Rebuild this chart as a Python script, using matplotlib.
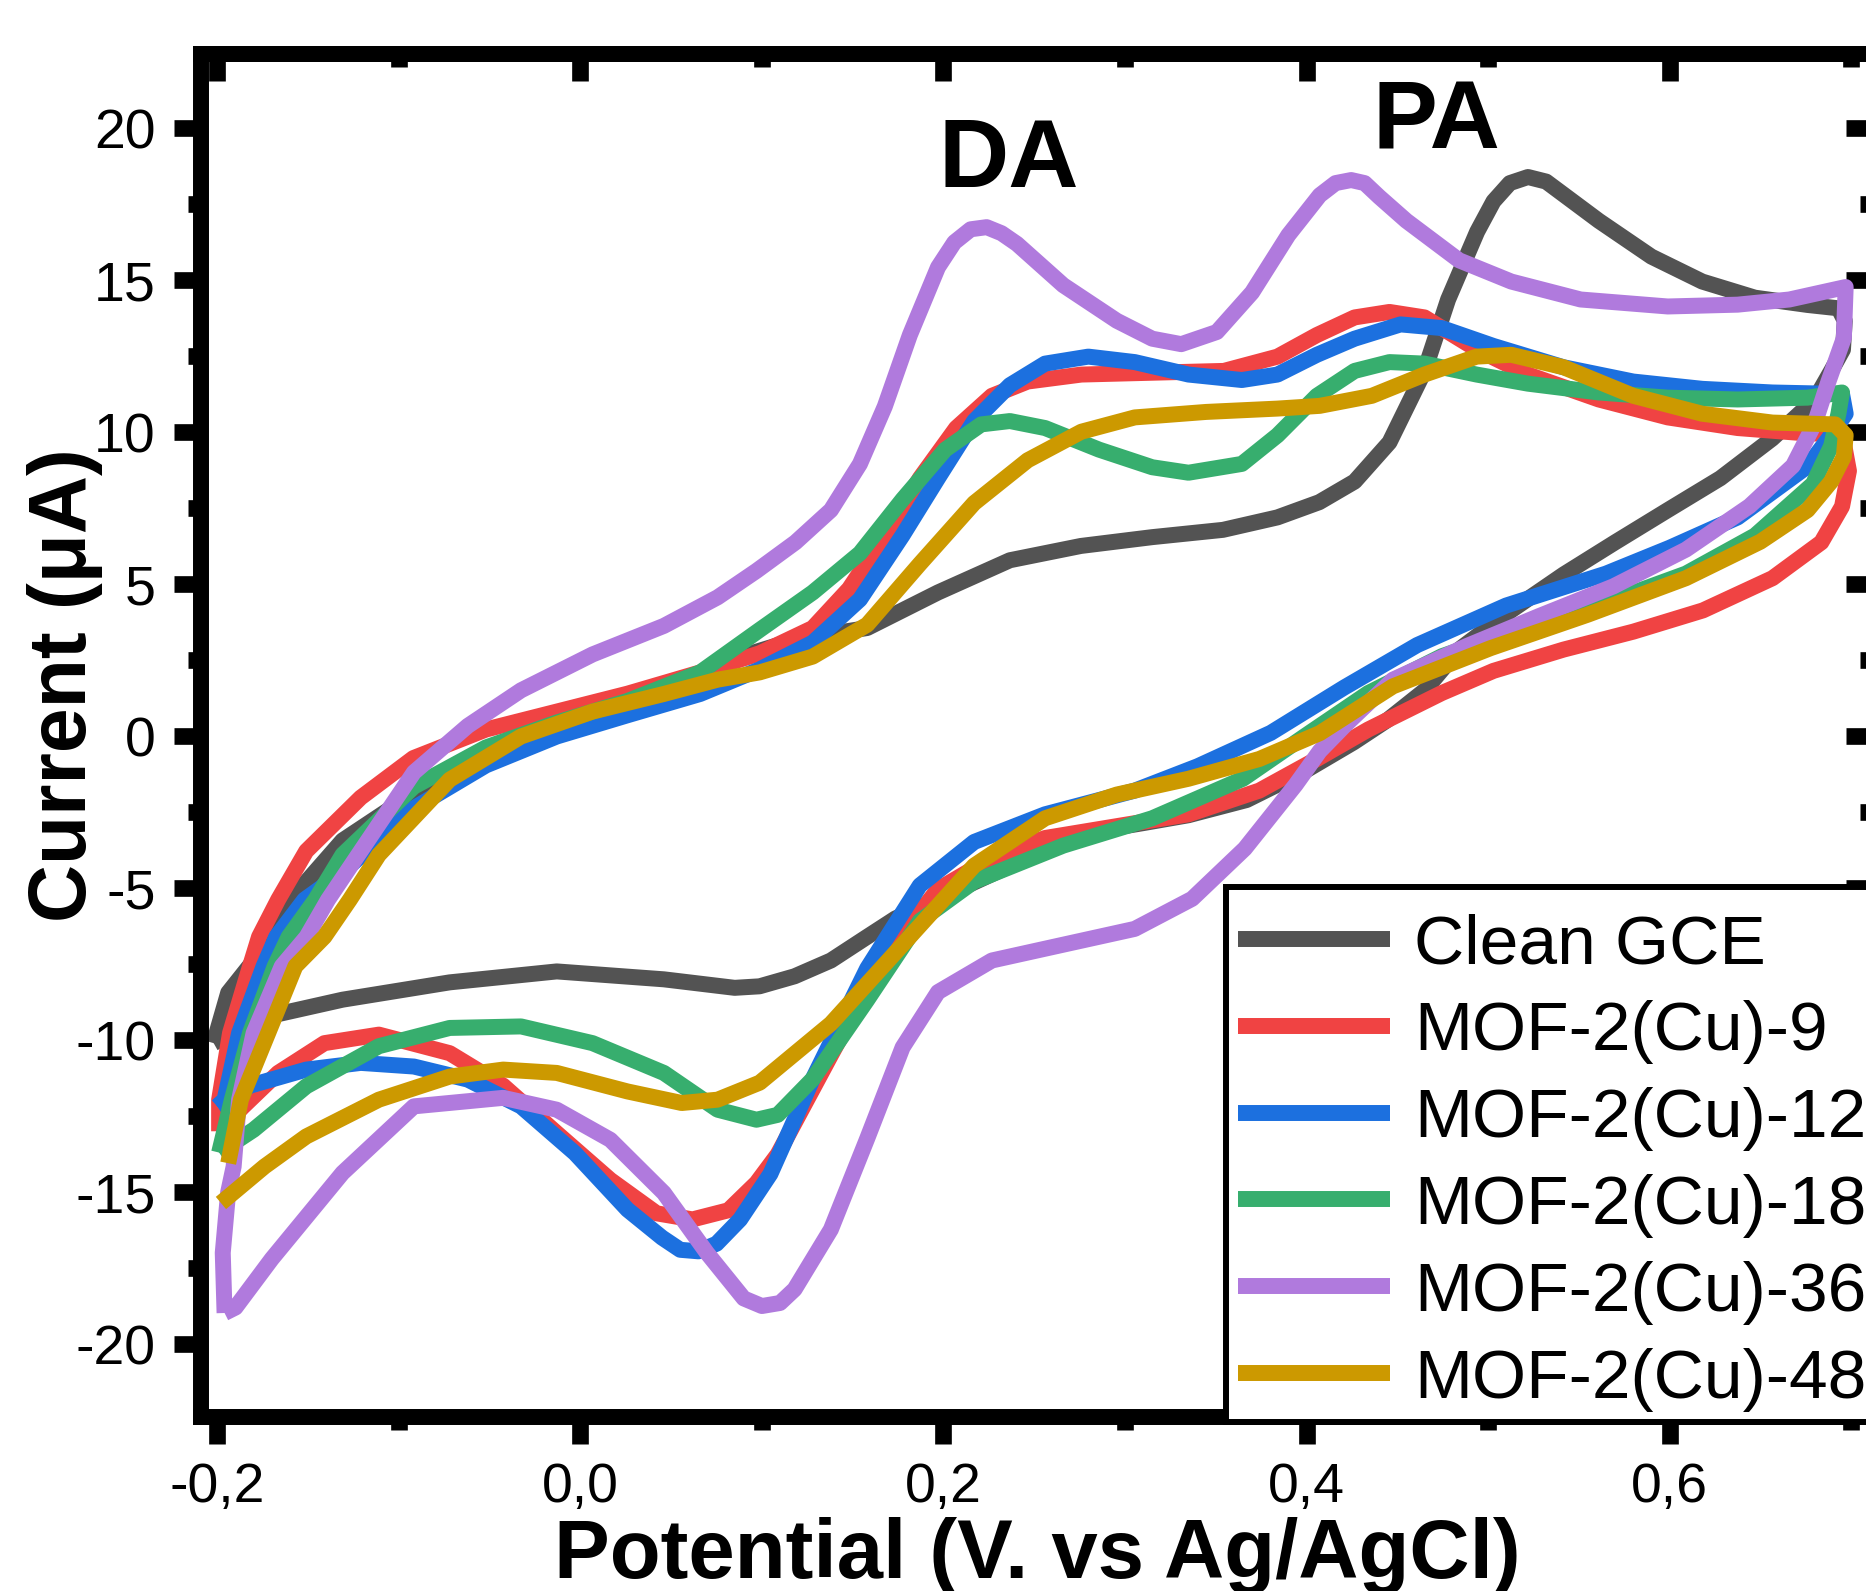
import matplotlib.pyplot as plt
from matplotlib.ticker import MultipleLocator
from matplotlib.patches import Rectangle

plt.rcParams['font.family'] = ['Liberation Sans', 'DejaVu Sans']

# Kurven: Potential (V) und Strom (uA), Hinlauf dann Ruecklauf
gce_v = [-0.202, -0.194, -0.1695, -0.1596, -0.131, -0.100, -0.072, -0.030, 0.020, 0.0854, 0.120,
         0.158, 0.197, 0.2366, 0.2757, 0.315, 0.354, 0.384, 0.407, 0.4265, 0.4457, 0.465, 0.478,
         0.494, 0.503, 0.512, 0.522, 0.532, 0.541, 0.561, 0.590, 0.618, 0.647, 0.676, 0.693, 0.6965,
         0.6955, 0.689, 0.680, 0.6565, 0.628, 0.599, 0.570, 0.5416, 0.5128, 0.484, 0.465, 0.445,
         0.426, 0.399, 0.367, 0.335, 0.311, 0.286, 0.25, 0.21, 0.1735, 0.158, 0.138, 0.118,
         0.0987, 0.085, 0.046, -0.013, -0.072, -0.131, -0.178, -0.202]
gce_i = [-10.1, -8.44, -6.6, -5.38, -3.43, -2.2, -1.5, -0.3, 0.9, 2.57, 3.2,
         3.56, 4.73, 5.79, 6.26, 6.55, 6.79, 7.2, 7.7, 8.38, 9.67, 12.02, 14.37,
         16.6, 17.6, 18.2, 18.4, 18.25, 17.85, 16.96, 15.78, 14.96, 14.43, 14.19, 14.08, 13.67,
         12.72, 12.02, 11.08, 9.79, 8.49, 7.44, 6.38, 5.32, 4.14, 2.85, 1.5, 0.55,
         -0.2, -1.15, -2.1, -2.6, -2.85, -3.1, -3.9, -5.0, -6.0, -6.6, -7.38, -7.9,
         -8.23, -8.28, -8.0, -7.74, -8.1, -8.67, -9.3, -10.1]

mof9_v = [-0.199, -0.199, -0.193, -0.182, -0.177, -0.1665, -0.151, -0.121, -0.092, -0.052,
          -0.013, 0.026, 0.066, 0.0988, 0.128, 0.148, 0.1677, 0.187, 0.207, 0.2267, 0.2464,
          0.276, 0.315, 0.3545, 0.384, 0.4057, 0.4265, 0.4457, 0.465, 0.4937, 0.522, 0.561,
          0.599, 0.6375, 0.676, 0.695,
          0.6988, 0.695, 0.6836, 0.6567, 0.6184, 0.58, 0.5416, 0.503, 0.4745, 0.434, 0.4057,
          0.374, 0.335, 0.2955, 0.256, 0.2267, 0.197, 0.1677, 0.138, 0.1087, 0.097, 0.0815,
          0.0618, 0.042, 0.0165, -0.013, -0.0425, -0.072, -0.111, -0.141, -0.1665, -0.186, -0.199]
mof9_i = [-13.0, -11.96, -9.77, -7.57, -6.6, -5.38, -3.78, -2.02, -0.72, 0.22,
          0.81, 1.4, 2.1, 2.73, 3.56, 4.85, 6.61, 8.49, 10.14, 11.2, 11.67,
          11.9, 11.96, 12.02, 12.49, 13.2, 13.78, 13.96, 13.78, 12.73, 11.9, 11.08,
          10.49, 10.14, 9.96, 9.96,
          8.73, 7.56, 6.38, 5.2, 4.14, 3.44, 2.85, 2.15, 1.42, 0.22, -0.75,
          -1.79, -2.57, -2.96, -3.35, -4.0, -5.04, -7.25, -10.5, -13.76, -14.7, -15.6,
          -15.9, -15.7, -14.6, -13.06, -11.5, -10.43, -9.82, -10.1, -11.08, -12.2, -13.0]

mof12_v = [-0.2, -0.196, -0.188, -0.1745, -0.1675, -0.152, -0.131, -0.0917, -0.052, -0.013,
           0.026, 0.066, 0.0988, 0.128, 0.154, 0.1775, 0.197, 0.2169, 0.2366, 0.256, 0.2798,
           0.3054, 0.335, 0.3644, 0.384, 0.4057, 0.4265, 0.4518, 0.4745, 0.503, 0.5416, 0.580,
           0.618, 0.6567, 0.695,
           0.697, 0.6875, 0.676, 0.6375, 0.60, 0.565, 0.51, 0.461, 0.4207, 0.3803, 0.34,
           0.3054, 0.256, 0.2169, 0.187, 0.158, 0.128, 0.1047, 0.088, 0.075, 0.065, 0.055,
           0.045, 0.026, -0.003, -0.0327, -0.062, -0.0917, -0.121, -0.151, -0.182, -0.2]
mof12_i = [-12.18, -11.96, -9.77, -7.57, -6.6, -5.38, -4.48, -2.37, -0.96, -0.01,
           0.69, 1.39, 2.2, 3.08, 4.5, 6.61, 8.49, 10.37, 11.55, 12.26, 12.49,
           12.31, 11.9, 11.72, 11.9, 12.55, 13.08, 13.55, 13.43, 12.84, 12.14, 11.67,
           11.43, 11.31, 11.26,
           10.61, 9.79, 8.88, 7.2, 6.2, 5.35, 4.3, 3.0, 1.6, 0.11, -0.99,
           -1.79, -2.57, -3.48, -4.91, -7.64, -11.28, -14.4, -15.9, -16.7, -16.95, -16.9,
           -16.5, -15.58, -13.72, -12.18, -11.3, -10.87, -10.75, -10.97, -11.5, -12.18]

mof18_v = [-0.199, -0.192, -0.182, -0.1684, -0.1607, -0.146, -0.131, -0.0917, -0.052, -0.013,
           0.026, 0.066, 0.0988, 0.128, 0.154, 0.1775, 0.201, 0.2208, 0.2366, 0.256, 0.2857,
           0.315, 0.335, 0.3644, 0.384, 0.4057, 0.4265, 0.4457, 0.465, 0.4937, 0.522, 0.561,
           0.599, 0.6375, 0.676, 0.695,
           0.693, 0.689, 0.679, 0.647, 0.609, 0.570, 0.528, 0.4745, 0.434, 0.399, 0.365,
           0.315, 0.266, 0.2169, 0.187, 0.158, 0.128, 0.1087, 0.097, 0.0756, 0.046, 0.0067,
           -0.0327, -0.072, -0.111, -0.151, -0.18, -0.199]
mof18_i = [-13.7, -11.96, -9.77, -7.57, -6.6, -5.38, -3.9, -1.66, -0.37, 0.45,
           1.16, 2.1, 3.5, 4.73, 6.02, 7.79, 9.43, 10.26, 10.37, 10.14, 9.43,
           8.85, 8.67, 8.96, 9.9, 11.2, 12.02, 12.31, 12.26, 11.9, 11.6, 11.31,
           11.14, 11.08, 11.14, 11.31,
           10.61, 9.55, 8.3, 6.6, 5.35, 4.5, 3.75, 2.63, 1.42, 0.0, -1.4,
           -2.7, -3.6, -4.78, -6.08, -8.68, -11.28, -12.46, -12.62, -12.29, -11.08, -10.1,
           -9.55, -9.6, -10.2, -11.52, -12.95, -13.7]

mof36_v = [-0.196, -0.197, -0.194, -0.191, -0.188, -0.180, -0.1645, -0.1508, -0.139, -0.121,
           -0.0917, -0.062, -0.0327, 0.0067, 0.046, 0.0756, 0.097, 0.1185, 0.138, 0.154, 0.1677,
           0.1815, 0.197, 0.206, 0.215, 0.2238, 0.232, 0.2405, 0.266, 0.2955, 0.315, 0.331, 0.3506,
           0.37, 0.39, 0.4073, 0.416, 0.4246, 0.432, 0.44, 0.455, 0.484, 0.5128, 0.551, 0.599,
           0.6375, 0.666, 0.697,
           0.696, 0.6875, 0.68, 0.668, 0.644, 0.609, 0.569, 0.528, 0.488, 0.4476, 0.4207,
           0.4073, 0.394, 0.366, 0.337, 0.3054, 0.266, 0.2267, 0.197, 0.1775, 0.158, 0.138,
           0.118, 0.11, 0.1, 0.09, 0.0697, 0.046, 0.0165, -0.013, -0.0425, -0.0917, -0.131,
           -0.17, -0.19, -0.196]
mof36_i = [-18.98, -17.0, -15.0, -14.16, -11.96, -9.77, -7.57, -6.6, -5.38, -3.78,
           -1.19, 0.34, 1.51, 2.69, 3.63, 4.57, 5.44, 6.38, 7.44, 8.96, 10.85,
           13.2, 15.43, 16.25, 16.68, 16.75, 16.55, 16.2, 14.84, 13.67, 13.08, 12.9, 13.3,
           14.6, 16.49, 17.8, 18.2, 18.3, 18.2, 17.75, 16.96, 15.66, 14.96, 14.37, 14.14,
           14.2, 14.37, 14.78,
           13.1, 11.67, 10.3, 8.9, 7.57, 6.14, 4.93, 3.95, 2.96, 1.86, 0.33,
           -0.49, -1.6, -3.7, -5.35, -6.34, -6.86, -7.38, -8.42, -10.24, -13.24, -16.23,
           -18.2, -18.65, -18.75, -18.5, -17.0, -15.03, -13.28, -12.29, -11.9, -12.18, -14.37,
           -17.2, -18.8, -18.98]

mof48_v = [-0.194, -0.187, -0.172, -0.157, -0.141, -0.127, -0.111, -0.072, -0.0327, 0.0067,
           0.046, 0.0756, 0.0988, 0.128, 0.158, 0.187, 0.2169, 0.2464, 0.276, 0.3054, 0.3447,
           0.384, 0.4073, 0.436, 0.465, 0.4937, 0.5128, 0.5416, 0.58, 0.618, 0.6567, 0.6912, 0.697,
           0.696, 0.689, 0.676, 0.65, 0.609, 0.555, 0.5015, 0.4476, 0.4073, 0.374, 0.335,
           0.2955, 0.256, 0.2169, 0.1775, 0.138, 0.0988, 0.0756, 0.0558, 0.026, -0.013,
           -0.0425, -0.072, -0.111, -0.151, -0.174, -0.198]
mof48_i = [-14.05, -11.96, -9.77, -7.57, -6.6, -5.38, -3.9, -1.43, -0.01, 0.81,
           1.39, 1.86, 2.1, 2.62, 3.67, 5.67, 7.67, 9.08, 10.02, 10.49, 10.67,
           10.78, 10.87, 11.2, 11.9, 12.49, 12.55, 12.14, 11.2, 10.61, 10.32, 10.26, 9.9,
           9.2, 8.38, 7.44, 6.4, 5.2, 4.0, 2.9, 1.64, 0.1, -0.75, -1.4,
           -1.92, -2.7, -4.26, -6.86, -9.46, -11.4, -11.96, -12.07, -11.69, -11.08,
           -10.97, -11.2, -11.96, -13.17, -14.16, -15.36]

labels = ['Clean GCE', 'MOF-2(Cu)-9', 'MOF-2(Cu)-12', 'MOF-2(Cu)-18', 'MOF-2(Cu)-36', 'MOF-2(Cu)-48']
colors = ['#535353', '#F04343', '#1C70DF', '#37AE6E', '#B07ADD', '#CC9900']

x_ticks = [-0.2, 0.0, 0.2, 0.4, 0.6]
x_labels = ['-0,2', '0,0', '0,2', '0,4', '0,6']
y_ticks = [-20, -15, -10, -5, 0, 5, 10, 15, 20]
y_labels = ['-20', '-15', '-10', '-5', '0', '5', '10', '15', '20']

W, H = 1866, 1591
fig = plt.figure(figsize=(W / 100, H / 100), dpi=100)
ax = fig.add_axes([0.1077, 0.1094, 0.8960, 0.8567])

curves = [(gce_v, gce_i), (mof9_v, mof9_i), (mof12_v, mof12_i),
          (mof18_v, mof18_i), (mof36_v, mof36_i), (mof48_v, mof48_i)]
for (v, i), c, lab in zip(curves, colors, labels):
    ax.plot(v, i, color=c, lw=11.5, label=lab,
            solid_capstyle='butt', solid_joinstyle='round')

ax.set_xlim(-0.209, 0.712)
ax.set_ylim(-22.4, 22.45)

# Achsen und Ticks (unten/links nach aussen)
ax.set_xticks(x_ticks, x_labels)
ax.set_yticks(y_ticks, y_labels)
ax.xaxis.set_minor_locator(MultipleLocator(0.1))
ax.yaxis.set_minor_locator(MultipleLocator(2.5))
ax.tick_params(which='both', direction='out', width=12, labelsize=40, pad=13)
ax.tick_params(which='major', length=19.5)
ax.tick_params(which='minor', length=9.5)
for s in ax.spines.values():
    s.set_linewidth(11.5)

# oben/rechts nach innen
secx = ax.secondary_xaxis('top')
secx.set_xticks(x_ticks)
secx.xaxis.set_minor_locator(MultipleLocator(0.1))
secx.tick_params(which='both', direction='in', width=12, labeltop=False)
secx.tick_params(which='major', length=19.5)
secx.tick_params(which='minor', length=9.5)
secy = ax.secondary_yaxis('right')
secy.set_yticks(y_ticks)
secy.yaxis.set_minor_locator(MultipleLocator(2.5))
secy.tick_params(which='both', direction='in', width=12, labelright=False)
secy.tick_params(which='major', length=19.5)
secy.tick_params(which='minor', length=9.5)
for sec in (secx, secy):
    for s in sec.spines.values():
        s.set_linewidth(11.5)

ax.set_xlabel('Potential (V. vs Ag/AgCl)', fontsize=60, fontweight='bold')
ax.xaxis.set_label_coords(0.5, -0.0734)
ax.set_ylabel('Current (μA)', fontsize=58, fontweight='bold', va='center', ha='center')
ax.yaxis.set_label_coords(-0.0816, 0.537)

ax.text(0.2357, 18.06, 'DA', fontsize=70, fontweight='bold', ha='center', va='baseline')
ax.text(0.4718, 19.35, 'PA', fontsize=70, fontweight='bold', ha='center', va='baseline')

# Legende: Rahmen separat (oben mehr Abstand als links)
box = Rectangle((1226 / W, 1 - 1422 / H), 700 / W, 535 / H, transform=fig.transFigure,
                facecolor='white', edgecolor='black', linewidth=4.3, clip_on=False, zorder=4.9)
ax.add_patch(box)
leg = ax.legend(loc='upper left', bbox_to_anchor=(1238 / W, 1 - 913 / H),
                bbox_transform=fig.transFigure, fontsize=50, frameon=False,
                handlelength=2.19, handletextpad=0.35, labelspacing=0.33,
                borderpad=0, borderaxespad=0)
leg.set_zorder(5)

fig.savefig('out.png', dpi=100)
